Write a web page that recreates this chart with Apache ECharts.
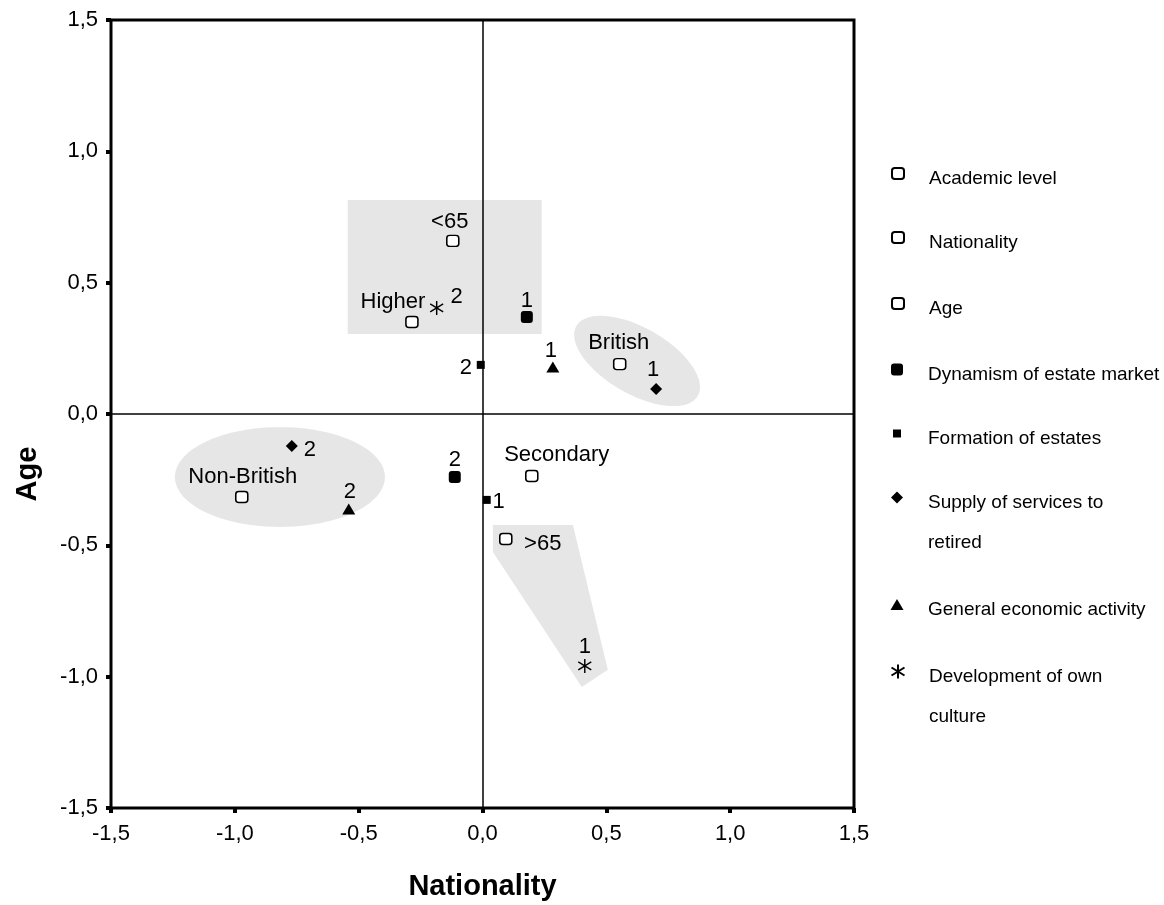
<!DOCTYPE html>
<html>
<head>
<meta charset="utf-8">
<script src="https://cdn.jsdelivr.net/npm/echarts@6/dist/echarts.min.js"></script>
<style>
html,body{margin:0;padding:0;background:#fff;}
#chart{width:1164px;height:905px;}
</style>
</head>
<body>
<div id="chart"></div>
<script>
// ---- data (x = Nationality, y = Age, label) ----
const academic    = [[-0.285, 0.350, 'Higher'], [0.199, -0.236, 'Secondary']];
const nationality = [[0.554, 0.190, 'British'], [-0.972, -0.316, 'Non-British']];
const age         = [[-0.120, 0.659, '<65'], [0.094, -0.476, '>65']];
const dynamism    = [[0.179, 0.369, '1'], [-0.112, -0.240, '2']];
const formation   = [[-0.007, 0.187, '2'], [0.017, -0.327, '1']];
const supply      = [[0.701, 0.095, '1'], [-0.770, -0.122, '2']];
const general     = [[0.284, 0.179, '1'], [-0.540, -0.362, '2']];
const development = [[-0.185, 0.404, '2'], [0.413, -0.959, '1']];

const axisTicks = [-1.5, -1.0, -0.5, 0.0, 0.5, 1.0, 1.5];

// shaded groupings (data units)
const shadeRect = [[-0.544, 0.815], [0.239, 0.305]];
const shadeOld = [[0.042, -0.423], [0.365, -0.423], [0.506, -0.974], [0.401, -1.039], [0.042, -0.525]];
const britishEllipse = {center: [0.624, 0.202], major: [0.245, -0.133], minor: [-0.067, -0.109]};
const nonBritishEllipse = {center: [-0.818, -0.240], major: [0.424, 0], minor: [0, 0.19]};

// ---- layout / style ----
const FONT = 'Liberation Sans, Arial, Helvetica, sans-serif';
const labelOffsets = {
  'Academic level': [[-19, -20], [25, -21]],
  'Nationality': [[-1, -21], [1, -20]],
  'Age': [[-3, -19], [37, 5]],
  'Dynamism of estate market': [[0, -16], [0, -17]],
  'Formation of estates': [[-15, 3], [12, 2]],
  'Supply of services to retired': [[-3, -19], [18, 4]],
  'General economic activity': [[-2, -16], [1, -17]],
  'Development of own culture': [[20, -11], [0, -19]]
};

function ellipsePoints(e) {
  const pts = [];
  for (let i = 0; i < 96; i++) {
    const t = i / 96 * Math.PI * 2;
    pts.push([
      e.center[0] + e.major[0] * Math.cos(t) + e.minor[0] * Math.sin(t),
      e.center[1] + e.major[1] * Math.cos(t) + e.minor[1] * Math.sin(t)
    ]);
  }
  return pts;
}
const shapes = [
  [shadeRect[0], [shadeRect[1][0], shadeRect[0][1]], shadeRect[1], [shadeRect[0][0], shadeRect[1][1]]],
  shadeOld,
  ellipsePoints(britishEllipse),
  ellipsePoints(nonBritishEllipse)
];

const openSq = {symbol: 'roundRect', size: [12, 11], style: {color: '#fff', borderColor: '#000', borderWidth: 1.5, opacity: 1}};
const seriesDefs = [
  {name: 'Academic level', data: academic, ...openSq},
  {name: 'Nationality', data: nationality, ...openSq},
  {name: 'Age', data: age, ...openSq},
  {name: 'Dynamism of estate market', data: dynamism, symbol: 'roundRect', size: [12, 12], style: {color: '#000', opacity: 1}},
  {name: 'Formation of estates', data: formation, symbol: 'rect', size: [8, 8], style: {color: '#000', opacity: 1}},
  {name: 'Supply of services to retired', data: supply, symbol: 'diamond', size: [12, 12], style: {color: '#000', opacity: 1}},
  {name: 'General economic activity', data: general, symbol: 'triangle', size: [13, 11], style: {color: '#000', opacity: 1}},
  {name: 'Development of own culture', data: development, symbol: 'path://M6.5,0L6.5,14M0,3L13,11M0,11L13,3', size: [13, 14],
    style: {color: 'rgba(0,0,0,0)', borderColor: '#000', borderWidth: 1.5, opacity: 1}}
];

const legendDefs = [
  {name: 'Academic level', y: 173, lines: ['Academic level']},
  {name: 'Nationality', y: 237, lines: ['Nationality']},
  {name: 'Age', y: 303, lines: ['Age']},
  {name: 'Dynamism of estate market', y: 369, lines: ['Dynamism of estate market']},
  {name: 'Formation of estates', y: 433, lines: ['Formation of estates']},
  {name: 'Supply of services to retired', y: 497, lines: ['Supply of services to', 'retired']},
  {name: 'General economic activity', y: 604, lines: ['General economic activity']},
  {name: 'Development of own culture', y: 671, lines: ['Development of own', 'culture']}
];

const fmt = v => v.toFixed(1).replace('.', ',');

const scatterSeries = seriesDefs.map(d => ({
  type: 'scatter',
  name: d.name,
  z: 10,
  symbol: d.symbol,
  symbolSize: d.size,
  itemStyle: d.style,
  emphasis: {disabled: true},
  data: d.data.map((p, i) => ({
    value: [p[0], p[1]],
    name: p[2],
    label: {offset: labelOffsets[d.name][i]}
  })),
  label: {
    show: true,
    position: 'inside',
    formatter: p => p.name,
    color: '#000',
    textBorderWidth: 0,
    textBorderColor: 'transparent',
    fontSize: 22,
    fontFamily: FONT
  }
}));

const LINE_H = 40;
const legends = legendDefs.map(l => {
  const s = seriesDefs.find(d => d.name === l.name);
  const w = s.size[0], h = s.size[1];
  const n = l.lines.length;
  // spacer line so the first text line sits slightly below the icon centre
  const spacer = n === 1 ? 10 : 50;
  const txt = '{e| }\n' + l.lines.map(t => '{t|' + t + '}').join('\n');
  return {
    data: [l.name],
    orient: 'vertical',
    left: 897 - w / 2,
    top: l.y - n * LINE_H / 2,
    padding: 0,
    itemWidth: w,
    itemHeight: h,
    selectedMode: false,
    formatter: () => txt,
    textStyle: {
      fontSize: 19,
      fontFamily: FONT,
      color: '#000',
      rich: {
        e: {lineHeight: spacer, fontSize: 1, padding: [0, 0, 0, 26 - w / 2]},
        t: {lineHeight: LINE_H, fontSize: 19, fontFamily: FONT, color: '#000', padding: [0, 0, 0, 26 - w / 2]}
      }
    }
  };
});

const chart = echarts.init(document.getElementById('chart'));
chart.setOption({
  animation: false,
  backgroundColor: '#fff',
  textStyle: {fontFamily: FONT},
  grid: {
    left: 111, right: 310, top: 20, bottom: 97,
    show: true, borderColor: '#000', borderWidth: 3, backgroundColor: 'transparent',
    containLabel: false, outerBoundsMode: 'none'
  },
  legend: legends,
  xAxis: {
    type: 'value', min: axisTicks[0], max: axisTicks[axisTicks.length - 1], interval: 0.5,
    name: 'Nationality', nameLocation: 'middle', nameGap: 64,
    nameTextStyle: {fontSize: 29, fontWeight: 'bold', color: '#000', fontFamily: FONT},
    axisLine: {show: false, onZero: false},
    axisTick: {show: true, length: 5, lineStyle: {width: 4, color: '#000'}},
    splitLine: {show: false},
    axisLabel: {formatter: fmt, fontSize: 22, color: '#000', margin: 15, fontFamily: FONT}
  },
  yAxis: {
    type: 'value', min: axisTicks[0], max: axisTicks[axisTicks.length - 1], interval: 0.5,
    name: 'Age', nameLocation: 'middle', nameGap: 69,
    nameTextStyle: {fontSize: 29, fontWeight: 'bold', color: '#000', fontFamily: FONT, padding: [0, 120, 0, 0]},
    axisLine: {show: false, onZero: false},
    axisTick: {show: true, length: 5, lineStyle: {width: 4, color: '#000'}},
    splitLine: {show: false},
    axisLabel: {formatter: fmt, fontSize: 22, color: '#000', margin: 13, fontFamily: FONT}
  },
  series: [
    {
      type: 'custom',
      name: 'groups',
      z: 1,
      silent: true,
      data: shapes.map((s, i) => [s[0][0], s[0][1], i]),
      renderItem: (params, api) => ({
        type: 'polygon',
        shape: {points: shapes[params.dataIndex].map(p => api.coord(p))},
        style: {fill: '#e6e6e6', stroke: null}
      })
    },
    {
      type: 'line',
      name: 'zero',
      data: [],
      z: 2,
      markLine: {
        silent: true,
        symbol: ['none', 'none'],
        label: {show: false},
        lineStyle: {color: '#000', width: 1.5, type: 'solid'},
        emphasis: {disabled: true},
        data: [{xAxis: 0}, {yAxis: 0}]
      }
    },
    ...scatterSeries
  ]
});
</script>
</body>
</html>
